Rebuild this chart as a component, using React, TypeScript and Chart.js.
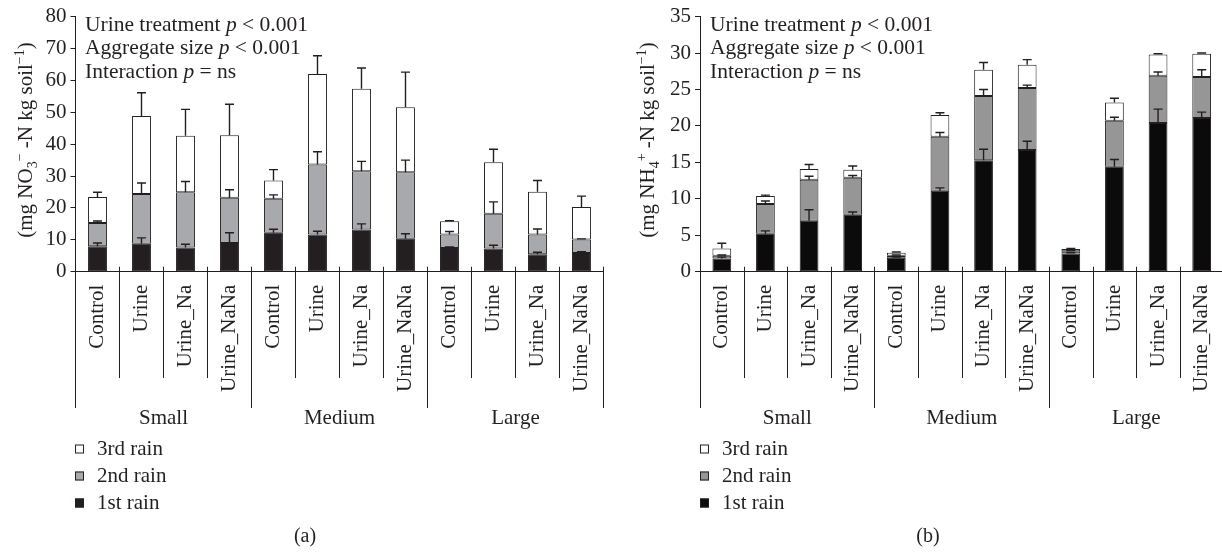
import React, { useEffect, useRef } from "react";
import { Chart, registerables } from "chart.js";

Chart.register(...registerables);

const FONT = '"Liberation Serif", "Times New Roman", serif';
const INK = "#231f20";
const H = 552;

const categories = [
  "Control", "Urine", "Urine_Na", "Urine_NaNa",
  "Control", "Urine", "Urine_Na", "Urine_NaNa",
  "Control", "Urine", "Urine_Na", "Urine_NaNa",
];
const groups = ["Small", "Medium", "Large"];
const seriesNames = ["1st rain", "2nd rain", "3rd rain"];

// Panel (a): NO3- -N
const no3First = [8.0, 8.8, 7.6, 9.0, 12.2, 11.7, 13.2, 10.3, 7.4, 7.3, 5.5, 5.9];
const no3Second = [7.3, 15.6, 17.3, 14.2, 10.7, 21.9, 18.3, 20.9, 4.3, 10.9, 6.2, 4.2];
const no3Third = [8.1, 24.4, 17.7, 19.6, 5.7, 28.4, 25.9, 20.4, 4.1, 16.1, 13.4, 10.2];
const no3Err1 = [1.0, 1.8, 1.0, 3.2, 1.1, 1.0, 1.8, 1.6, 0.4, 1.0, 0.6, 0.4];
const no3Err2 = [0.6, 3.4, 3.4, 2.5, 1.2, 4.0, 3.1, 3.8, 0.9, 3.7, 1.7, 0.2];
const no3Err3 = [1.5, 7.3, 8.3, 9.7, 3.4, 5.7, 6.5, 11.0, 0.2, 4.1, 3.5, 3.4];

// Panel (b): NH4+ -N
const nh4First = [1.8, 5.2, 7.0, 7.8, 1.9, 11.1, 15.3, 16.7, 2.5, 14.4, 20.4, 21.1];
const nh4Second = [0.4, 4.1, 5.6, 5.1, 0.3, 7.4, 8.8, 8.5, 0.3, 6.3, 6.5, 5.6];
const nh4Third = [1.0, 1.1, 1.5, 1.1, 0.4, 3.0, 3.6, 3.2, 0.3, 2.5, 2.9, 3.2];
const nh4Err1 = [0.2, 0.4, 1.5, 0.4, 0.1, 0.4, 1.5, 1.2, 0.1, 1.0, 1.9, 0.8];
const nh4Err2 = [0.1, 0.4, 0.5, 0.3, 0.1, 0.6, 0.9, 0.4, 0.1, 0.5, 0.5, 1.0];
const nh4Err3 = [0.7, 0.1, 0.6, 0.5, 0.1, 0.3, 1.0, 0.7, 0.1, 0.6, 0.1, 0.1];

const annotationLines = [
  [{ t: "Urine treatment " }, { t: "p", it: true }, { t: " < 0.001" }],
  [{ t: "Aggregate size " }, { t: "p", it: true }, { t: " < 0.001" }],
  [{ t: "Interaction " }, { t: "p", it: true }, { t: " = ns" }],
];

type Part = { t: string; it?: boolean; sub?: boolean; sup?: boolean };

const no3Title: Part[] = [
  { t: "(mg NO" }, { t: "3", sub: true }, { t: "\u2212", sup: true },
  { t: " -N kg soil" }, { t: "\u22121", sup: true }, { t: ")" },
];
const nh4Title: Part[] = [
  { t: "(mg NH" }, { t: "4", sub: true }, { t: "+", sup: true },
  { t: " -N kg soil" }, { t: "\u22121", sup: true }, { t: ")" },
];

type Panel = {
  width: number;
  offset: number;
  left: number;
  padRight: number;
  top: number;
  bottom: number;
  max: number;
  step: number;
  black: string;
  gray: string;
  data: number[][];
  errs: number[][];
  title: Part[];
  titleX: number;
  titleY: number;
  annX: number;
  legX: number;
  legTextX: number;
  caption: string;
  capX: number;
};

const panels: Panel[] = [
  {
    width: 612, offset: 0, left: 75.5, padRight: 7.5, top: 15, bottom: 271.7,
    max: 80, step: 10, black: "#231f20", gray: "#a7a9ac",
    data: [no3First, no3Second, no3Third], errs: [no3Err1, no3Err2, no3Err3],
    title: no3Title, titleX: 25, titleY: 140, annX: 85,
    legX: 75, legTextX: 97, caption: "(a)", capX: 305,
  },
  {
    width: 620, offset: 612, left: 88, padRight: 3, top: 16, bottom: 271.7,
    max: 35, step: 5, black: "#0b0b0b", gray: "#969696",
    data: [nh4First, nh4Second, nh4Third], errs: [nh4Err1, nh4Err2, nh4Err3],
    title: nh4Title, titleX: 35, titleY: 140, annX: 98,
    legX: 88, legTextX: 110, caption: "(b)", capX: 316,
  },
];

function fontOf(p: Part, size: number) {
  const s = p.sub || p.sup ? Math.round(size * 0.66) : size;
  return `${p.it ? "italic " : ""}${s}px ${FONT}`;
}

function measureRich(ctx: CanvasRenderingContext2D, parts: Part[], size: number) {
  let w = 0;
  for (const p of parts) {
    ctx.font = fontOf(p, size);
    w += ctx.measureText(p.t).width;
  }
  return w;
}

function drawRich(ctx: CanvasRenderingContext2D, parts: Part[], x: number, y: number, size: number) {
  let cx = x;
  ctx.textBaseline = "alphabetic";
  ctx.textAlign = "left";
  for (const p of parts) {
    ctx.font = fontOf(p, size);
    let dy = 0;
    if (p.sub) dy = size * 0.25;
    if (p.sup) dy = -size * 0.4;
    ctx.fillText(p.t, cx, y + dy);
    cx += ctx.measureText(p.t).width;
  }
}

function makePlugin(p: Panel) {
  return {
    id: "decor",
    afterDatasetsDraw(chart: any) {
      const ctx: CanvasRenderingContext2D = chart.ctx;
      const ys = chart.scales.y;
      ctx.save();
      ctx.strokeStyle = INK;
      ctx.lineWidth = 1.4;
      const cum = new Array(categories.length).fill(0);
      p.data.forEach((series, di) => {
        const meta = chart.getDatasetMeta(di);
        series.forEach((v, i) => {
          cum[i] += v;
          const bar = meta.data[i];
          const x = bar.x;
          const y0 = ys.getPixelForValue(cum[i]);
          const y1 = ys.getPixelForValue(cum[i] + p.errs[di][i]);
          ctx.beginPath();
          ctx.moveTo(x, y0);
          ctx.lineTo(x, y1);
          ctx.moveTo(x - 4.5, y1);
          ctx.lineTo(x + 4.5, y1);
          ctx.stroke();
        });
      });
      ctx.restore();
    },
    afterDraw(chart: any) {
      const ctx: CanvasRenderingContext2D = chart.ctx;
      const xs = chart.scales.x;
      const area = chart.chartArea;
      const step = xs.getPixelForValue(1) - xs.getPixelForValue(0);
      ctx.save();
      ctx.fillStyle = INK;
      ctx.strokeStyle = INK;
      ctx.lineWidth = 1;

      // category separators
      for (let i = 0; i <= categories.length; i++) {
        const x = Math.round(xs.getPixelForValue(0) - step / 2 + i * step) + 0.5;
        const long = i % 4 === 0;
        ctx.beginPath();
        ctx.moveTo(x, area.bottom - 5);
        ctx.lineTo(x, long ? 408 : 378);
        ctx.stroke();
      }

      // group labels
      ctx.font = `21px ${FONT}`;
      ctx.textAlign = "center";
      ctx.textBaseline = "middle";
      groups.forEach((g, gi) => {
        const x = (xs.getPixelForValue(gi * 4) + xs.getPixelForValue(gi * 4 + 3)) / 2;
        ctx.fillText(g, x, 418);
      });

      // annotations
      annotationLines.forEach((line, li) => {
        drawRich(ctx, line as Part[], p.annX, 31 + li * 23.3, 21.5);
      });

      // y axis title
      const tw = measureRich(ctx, p.title, 21);
      ctx.save();
      ctx.translate(p.titleX, p.titleY);
      ctx.rotate(-Math.PI / 2);
      drawRich(ctx, p.title, -tw / 2, 7, 21);
      ctx.restore();

      // legend
      const rows = [2, 1, 0];
      const fills = [p.black, p.gray, "#ffffff"];
      rows.forEach((si, ri) => {
        const cy = 449 + ri * 27;
        ctx.fillStyle = fills[si];
        ctx.fillRect(p.legX, cy - 4.5, 9, 9);
        ctx.strokeStyle = INK;
        ctx.strokeRect(p.legX + 0.5, cy - 4, 8, 8);
        ctx.fillStyle = INK;
        ctx.font = `21px ${FONT}`;
        ctx.textAlign = "left";
        ctx.textBaseline = "middle";
        ctx.fillText(seriesNames[si], p.legTextX, cy);
      });

      // caption
      ctx.font = `20px ${FONT}`;
      ctx.textAlign = "center";
      ctx.textBaseline = "middle";
      ctx.fillText(p.caption, p.capX, 537);
      ctx.restore();
    },
  };
}

function buildConfig(p: Panel): any {
  const fills = [p.black, p.gray, "#ffffff"];
  return {
    type: "bar",
    data: {
      labels: categories,
      datasets: p.data.map((d, i) => ({
        label: seriesNames[i],
        data: d,
        backgroundColor: fills[i],
        borderColor: INK,
        borderWidth: 1,
        borderSkipped: false,
        categoryPercentage: 1,
        barPercentage: 0.43,
      })),
    },
    options: {
      responsive: false,
      animation: false,
      layout: { padding: { left: 0, right: p.padRight, top: p.top, bottom: 0 } },
      plugins: { legend: { display: false }, tooltip: { enabled: false } },
      scales: {
        x: {
          stacked: true,
          grid: { display: false },
          border: { display: true, color: INK, width: 1 },
          ticks: {
            autoSkip: false,
            minRotation: 90,
            maxRotation: 90,
            padding: 5,
            color: INK,
            font: { family: FONT, size: 21 },
          },
          afterFit: (s: any) => {
            s.height = H - p.bottom;
          },
        },
        y: {
          stacked: true,
          min: 0,
          max: p.max,
          ticks: { stepSize: p.step, padding: 4, color: INK, font: { family: FONT, size: 21 } },
          grid: { drawOnChartArea: false, drawTicks: true, tickLength: 5, color: INK },
          border: { display: true, color: INK, width: 1 },
          afterFit: (s: any) => {
            s.width = p.left;
          },
        },
      },
    },
    plugins: [makePlugin(p)],
  };
}

function PanelChart({ p }: { p: Panel }) {
  const ref = useRef<HTMLCanvasElement | null>(null);
  useEffect(() => {
    if (!ref.current) return;
    const chart = new Chart(ref.current, buildConfig(p));
    return () => chart.destroy();
  }, [p]);
  return (
    <canvas
      ref={ref}
      width={p.width}
      height={H}
      style={{ position: "absolute", left: p.offset, top: 0, width: p.width, height: H }}
    />
  );
}

export default function App() {
  return (
    <div
      style={{
        position: "absolute",
        left: 0,
        top: 0,
        width: 1222,
        height: H,
        overflow: "hidden",
        background: "#ffffff",
      }}
    >
      {panels.map((p) => (
        <PanelChart key={p.caption} p={p} />
      ))}
    </div>
  );
}
